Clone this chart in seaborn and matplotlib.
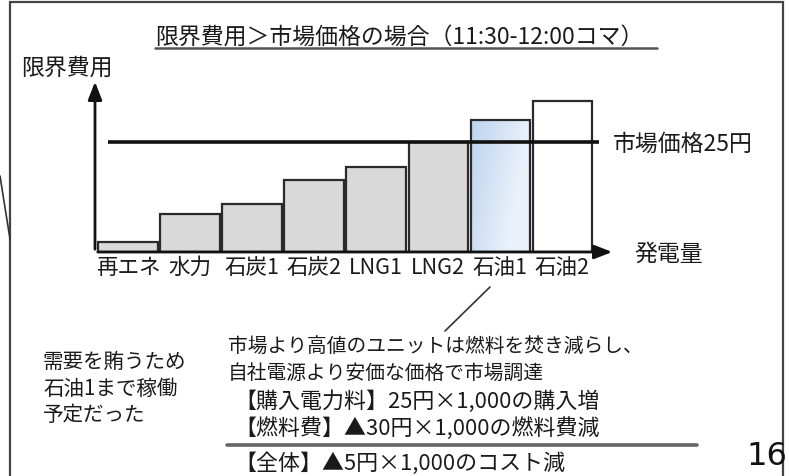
import numpy as np
import matplotlib
matplotlib.use('Agg')
import matplotlib.pyplot as plt
import seaborn as sns
from matplotlib.patches import Rectangle
from matplotlib.lines import Line2D

# データ（限界費用の並び、単位：円）
電源 = ['再エネ', '水力', '石炭1', '石炭2', 'LNG1', 'LNG2', '石油1', '石油2']
限界費用 = [2.3, 8.6, 10.9, 16.4, 19.3, 25.0, 30.0, 34.3]
市場価格 = 25
塗り色 = ['#d9d9d9', '#d9d9d9', '#d9d9d9', '#d9d9d9', '#d9d9d9', '#d9d9d9', '#c9dbf2', '#ffffff']

タイトル = '限界費用＞市場価格の場合（11:30-12:00コマ）'
説明左 = ['需要を賄うため', '石油1まで稼働', '予定だった']
説明右 = ['市場より高値のユニットは燃料を焚き減らし、', '自社電源より安価な価格で市場調達']
内訳 = ['【購入電力料】25円×1,000の購入増', '【燃料費】▲30円×1,000の燃料費減']
合計 = '【全体】▲5円×1,000のコスト減'

sns.set_theme(style='white')
plt.rcParams['font.family'] = ['Noto Sans CJK JP', 'DejaVu Sans']
文字色 = '#1a1a1a'

W, H = 789, 477
fig = plt.figure(figsize=(W / 100, H / 100), dpi=100)


def px(x, y):
    # 画像上のピクセル位置 -> figure 座標
    return x / W, 1 - y / H


# 軸：x は 95..615px、y は 80..253px
ax = fig.add_axes([95 / W, 1 - 253 / H, (615 - 95) / W, (253 - 80) / H])
sns.barplot(x=電源, y=限界費用, hue=電源, palette=塗り色, legend=False,
            width=0.955, edgecolor='#2a2a2a', linewidth=1.6, saturation=1, ax=ax)
ax.set_xlim(-0.53, 7.85)
ax.set_ylim(0, 39.3)
ax.set_facecolor('none')
for s in ax.spines.values():
    s.set_visible(False)
ax.set_yticks([])
ax.set_xlabel('')
ax.set_ylabel('')
ax.tick_params(axis='x', length=0, pad=3, labelsize=15.5, labelcolor=文字色)

# 石油1 はグラデーション
p = ax.patches[6]
x0, y0 = p.get_x(), p.get_y()
w, h = p.get_width(), p.get_height()
grad = np.linspace(0, 1, 100)[None, :] + np.linspace(0, 0.4, 100)[::-1][:, None]
grad = np.clip(grad, 0, 1)
cmap = matplotlib.colors.LinearSegmentedColormap.from_list('g', ['#bcd3f0', '#eaf1fa'])
im = ax.imshow(grad, cmap=cmap, extent=[x0, x0 + w, y0, y0 + h], aspect='auto',
               origin='lower', zorder=p.get_zorder() + 0.1)
im.set_clip_path(p)
p.set_facecolor('none')
p.set_zorder(im.get_zorder() + 0.1)

# 市場価格ライン
ax.hlines(市場価格, -0.32, 7.6, color='#111111', lw=2.6, zorder=5)

# 軸の矢印
ax.annotate('', xy=(-0.53, 39.3), xytext=(-0.53, 0), annotation_clip=False,
            arrowprops=dict(arrowstyle='-|>,head_length=0.9,head_width=0.35', color='#111111', lw=2))
ax.annotate('', xy=(7.85, 0), xytext=(-0.53, 0), annotation_clip=False,
            arrowprops=dict(arrowstyle='-|>,head_length=0.9,head_width=0.35', color='#111111', lw=2))

# スライド枠など
fig.add_artist(Rectangle(px(10, 490), (783 - 10) / W, (490 - 3) / H, transform=fig.transFigure,
                         fill=False, edgecolor='#444444', lw=1.6))
fig.add_artist(Line2D(*zip(px(0, 177), px(10, 240)), transform=fig.transFigure, color='#333333', lw=1.2))
fig.add_artist(Line2D(*zip(px(490, 288), px(445, 332)), transform=fig.transFigure, color='#333333', lw=1.2))

# タイトル
fig.text(*px(155, 37), タイトル, fontsize=16.5, color=文字色, ha='left', va='center')
fig.add_artist(Line2D(*zip(px(155, 49), px(657, 49)), transform=fig.transFigure, color='#555555', lw=1.8))

fig.text(*px(21, 68), '限界費用', fontsize=16.5, color=文字色, ha='left', va='center')
fig.text(*px(613, 144), f'市場価格{市場価格}円', fontsize=16.5, color=文字色, ha='left', va='center')
fig.text(*px(634, 254), '発電量', fontsize=16.5, color=文字色, ha='left', va='center')

for i, t in enumerate(説明左):
    fig.text(*px(43, 362 + i * 26.5), t, fontsize=14.8, color=文字色, ha='left', va='center')
for i, t in enumerate(説明右):
    fig.text(*px(228, 347 + i * 26), t, fontsize=14.2, color=文字色, ha='left', va='center')
for i, t in enumerate(内訳):
    fig.text(*px(234, 402 + i * 27), t, fontsize=15.8, color=文字色, ha='left', va='center')
fig.add_artist(Line2D(*zip(px(227, 446), px(697, 446)), transform=fig.transFigure, color='#666666', lw=2.6))
fig.text(*px(234, 464), 合計, fontsize=15.8, color=文字色, ha='left', va='center')
fig.text(*px(746, 457), '16', fontsize=23, family='DejaVu Sans', color='#111111', ha='left', va='center')

fig.savefig('out.png', dpi=100, facecolor='white')
